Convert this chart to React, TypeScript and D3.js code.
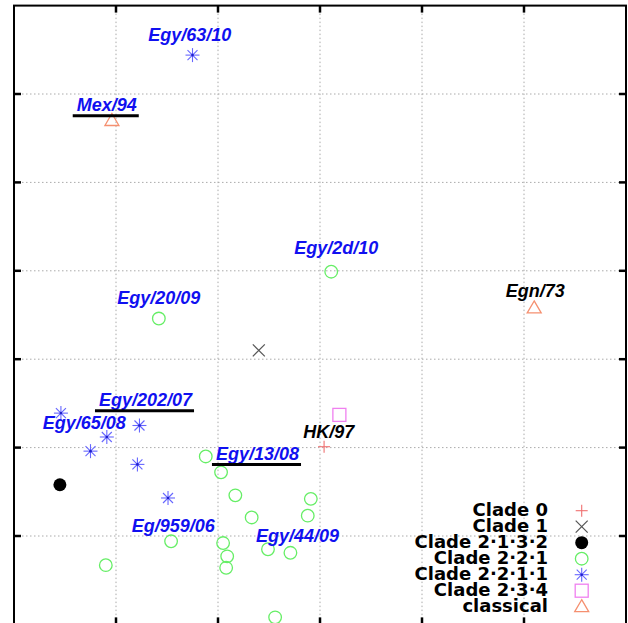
import React, { useMemo } from 'react';
import * as d3 from 'd3';

// ---- data (map units) ----
const X_GRID = [1, 2, 3, 4, 5];
const Y_GRID = [1, 2, 3, 4, 5, 6];

const clade0: [number, number][] = [[3.04, 2.01]];
const clade1: [number, number][] = [[2.40, 3.10]];
const clade2132: [number, number][] = [[0.45, 1.58]];
const clade221: [number, number][] = [
  [1.42, 3.46], [3.11, 3.99], [1.88, 1.90], [2.03, 1.72], [2.17, 1.46],
  [2.33, 1.21], [2.91, 1.42], [2.88, 1.23], [1.54, 0.94], [2.05, 0.92],
  [2.09, 0.77], [2.08, 0.64], [2.49, 0.85], [2.71, 0.81], [0.90, 0.67],
  [2.56, 0.08],
];
const clade2211: [number, number][] = [
  [1.75, 6.44], [0.46, 2.39], [1.23, 2.25], [0.91, 2.12], [0.75, 1.96],
  [1.21, 1.81], [1.51, 1.43],
];
const clade234: [number, number][] = [[3.19, 2.37]];
const classical: [number, number][] = [[0.96, 5.70], [5.10, 3.58]];

const legendNames = ['Clade 0', 'Clade 1', 'Clade 2·1·3·2', 'Clade 2·2·1', 'Clade 2·2·1·1', 'Clade 2·3·4', 'classical'];

const labelTexts = ['Egy/63/10', 'Mex/94', 'Egy/20/09', 'Egy/2d/10', 'Egn/73', 'Egy/202/07', 'Egy/65/08', 'HK/97', 'Egy/13/08', 'Eg/959/06', 'Egy/44/09'];
const labelX = [1.317, 0.615, 1.013, 2.748, 4.821, 0.833, 0.281, 2.836, 1.980, 1.154, 2.373];
const labelY = [6.594, 5.811, 3.624, 4.190, 3.707, 2.474, 2.205, 2.105, 1.865, 1.045, 0.932];
const labelIsReference = [false, true, false, false, false, true, false, false, true, false, false];
const labelIsEarly = [false, false, false, false, true, false, false, true, false, false, false];

// ---- styles ----
const W = 628, H = 623;
const C_PLUS = '#f07070';
const C_X = '#555555';
const C_GREEN = '#66ee66';
const C_BLUE = '#6666ff';
const C_SQ = '#f080f0';
const C_TRI = '#f59070';
const LABEL_FONT = "italic bold 18px 'Liberation Sans', Arial, sans-serif";

function Marker({ kind, cx, cy }: { kind: string; cx: number; cy: number }) {
  switch (kind) {
    case 'plus':
      return (
        <g stroke={C_PLUS} strokeWidth={1.1}>
          <line x1={cx - 6} y1={cy} x2={cx + 6} y2={cy} />
          <line x1={cx} y1={cy - 6} x2={cx} y2={cy + 6} />
        </g>
      );
    case 'x':
      return (
        <g stroke={C_X} strokeWidth={1.2}>
          <line x1={cx - 6} y1={cy - 6} x2={cx + 6} y2={cy + 6} />
          <line x1={cx - 6} y1={cy + 6} x2={cx + 6} y2={cy - 6} />
        </g>
      );
    case 'dot':
      return <circle cx={cx} cy={cy} r={6.5} fill="#000" />;
    case 'circle':
      return <circle cx={cx} cy={cy} r={6.3} fill="none" stroke={C_GREEN} strokeWidth={1.3} />;
    case 'star':
      return (
        <g stroke={C_BLUE} strokeWidth={1.1}>
          <line x1={cx - 7} y1={cy} x2={cx + 7} y2={cy} />
          <line x1={cx} y1={cy - 7} x2={cx} y2={cy + 7} />
          <line x1={cx - 5} y1={cy - 5} x2={cx + 5} y2={cy + 5} />
          <line x1={cx - 5} y1={cy + 5} x2={cx + 5} y2={cy - 5} />
          <circle cx={cx} cy={cy} r={1.3} fill="#2020cc" stroke="none" />
        </g>
      );
    case 'square':
      return <rect x={cx - 6.5} y={cy - 6.5} width={13} height={13} fill="none" stroke={C_SQ} strokeWidth={1.3} />;
    case 'tri':
      return (
        <path
          d={`M${cx},${cy - 7} L${cx + 7},${cy + 5} L${cx - 7},${cy + 5} Z`}
          fill="none"
          stroke={C_TRI}
          strokeWidth={1.3}
        />
      );
  }
  return null;
}

export default function App() {
  const left = 14, right = 626, top = 5.6, bottom = 624.4;
  const x = d3.scaleLinear().domain([0, 6]).range([left, right]);
  const y = d3.scaleLinear().domain([0, 7]).range([bottom, top]);

  const widths = useMemo(() => {
    const c = document.createElement('canvas').getContext('2d');
    if (!c) return labelTexts.map((t) => t.length * 9.5);
    c.font = LABEL_FONT;
    return labelTexts.map((t) => c.measureText(t).width);
  }, []);

  const series: { kind: string; pts: [number, number][] }[] = [
    { kind: 'circle', pts: clade221 },
    { kind: 'star', pts: clade2211 },
    { kind: 'dot', pts: clade2132 },
    { kind: 'x', pts: clade1 },
    { kind: 'plus', pts: clade0 },
    { kind: 'square', pts: clade234 },
    { kind: 'tri', pts: classical },
  ];
  const legendKinds = ['plus', 'x', 'dot', 'circle', 'star', 'square', 'tri'];

  const tickLen = 7;

  return (
    <svg
      width={W}
      height={H}
      style={{ position: 'absolute', left: 0, top: 0, background: '#fff' }}
      xmlns="http://www.w3.org/2000/svg"
    >
      <rect x={0} y={0} width={W} height={H} fill="#fff" />
      {/* grid */}
      <g stroke="#aaaaaa" strokeWidth={1} strokeDasharray="1.5,2.5">
        {X_GRID.map((v) => (
          <line key={'gx' + v} x1={x(v)} x2={x(v)} y1={top} y2={bottom} />
        ))}
        {Y_GRID.map((v) => (
          <line key={'gy' + v} x1={left} x2={right} y1={y(v)} y2={y(v)} />
        ))}
      </g>
      {/* ticks */}
      <g stroke="#000" strokeWidth={2.5}>
        {X_GRID.map((v) => (
          <g key={'tx' + v}>
            <line x1={x(v)} x2={x(v)} y1={top} y2={top + tickLen} />
            <line x1={x(v)} x2={x(v)} y1={bottom} y2={bottom - tickLen} />
          </g>
        ))}
        {Y_GRID.map((v) => (
          <g key={'ty' + v}>
            <line x1={left} x2={left + tickLen} y1={y(v)} y2={y(v)} />
            <line x1={right} x2={right - tickLen} y1={y(v)} y2={y(v)} />
          </g>
        ))}
      </g>
      {/* frame */}
      <rect x={left} y={top} width={right - left} height={bottom - top} fill="none" stroke="#000" strokeWidth={2} />

      {/* markers */}
      {series.map((s) =>
        s.pts.map((p, i) => <Marker key={s.kind + i} kind={s.kind} cx={x(p[0])} cy={y(p[1])} />)
      )}

      {/* labels */}
      {labelTexts.map((t, i) => {
        const lx = x(labelX[i]);
        const ly = y(labelY[i]);
        return (
          <g key={'lab' + i}>
            <text
              x={lx}
              y={ly}
              fill={labelIsEarly[i] ? '#000' : '#1010f0'}
              style={{ font: LABEL_FONT }}
            >
              {t}
            </text>
            {labelIsReference[i] && (
              <line x1={lx - 4} x2={lx + widths[i] + 2} y1={ly + 5} y2={ly + 5} stroke="#000" strokeWidth={3} />
            )}
          </g>
        );
      })}

      {/* legend */}
      {legendNames.map((n, i) => {
        const by = 515.7 + i * 16;
        return (
          <g key={'leg' + i}>
            <text
              x={548}
              y={by}
              textAnchor="end"
              fill="#000"
              style={{ font: "bold 18px 'DejaVu Sans', Verdana, sans-serif" }}
            >
              {n}
            </text>
            <Marker kind={legendKinds[i]} cx={581.7} cy={by - 5} />
          </g>
        );
      })}
    </svg>
  );
}
